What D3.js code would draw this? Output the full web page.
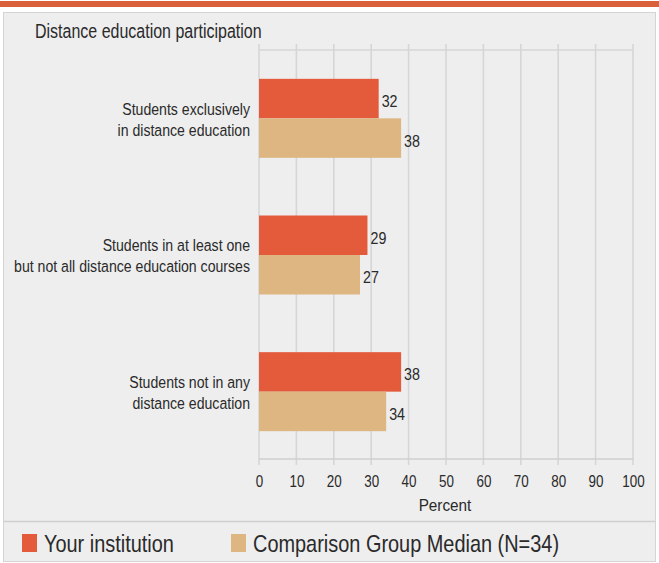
<!DOCTYPE html>
<html><head><meta charset="utf-8">
<script src="https://cdn.jsdelivr.net/npm/d3@7"></script>
<style>body{margin:0;background:#fff}svg{display:block}text{font-family:"Liberation Sans",Arial,sans-serif;fill:#2a2a2a}</style>
</head><body><svg id="c" width="659" height="563"></svg>
<script>
const title = "Distance education participation";
const categories = [
  ["Students exclusively", "in distance education"],
  ["Students in at least one", "but not all distance education courses"],
  ["Students not in any", "distance education"]
];
const seriesNames = ["Your institution", "Comparison Group Median (N=34)"];
const yourInstitution = [32, 29, 38];
const comparisonMedian = [38, 27, 34];
const xTicks = [0,10,20,30,40,50,60,70,80,90,100];
const xLabel = "Percent";
const colors = ["#e35b3b", "#ddb682"];

const svg = d3.select("#c");
// condensed text helper (reference text is horizontally compressed)
function txt(parent, x, y, str, size, anchor, sx) {
  const g = parent.append("g").attr("transform", `translate(${x},${y}) scale(${sx||0.83},1)`);
  return g.append("text").attr("x",0).attr("y",0).attr("font-size",size)
    .attr("text-anchor",anchor||"start").attr("dominant-baseline","central").text(str);
}

// top stripe
svg.append("rect").attr("x",0).attr("y",1).attr("width",659).attr("height",6).attr("fill","#d9603b");
// panel
svg.append("rect").attr("x",3.5).attr("y",12.5).attr("width",652).attr("height",549)
  .attr("fill","#eeeeee").attr("stroke","#d4d4d4");
svg.append("line").attr("x1",4).attr("x2",655).attr("y1",521.5).attr("y2",521.5).attr("stroke","#d0d0d0").attr("stroke-width",1.5);

txt(svg, 35, 31, title, 19.5, "start", 0.82);

const x = d3.scaleLinear().domain([0,100]).range([259,633]);
const idx = categories.map((d,i)=>i);
const y = d3.scaleBand().domain(idx).range([50,460]).paddingInner(0.422).paddingOuter(0.211);
const sub = d3.scaleBand().domain([0,1]).range([0,y.bandwidth()]);

// gridlines
const g = svg.append("g");
g.selectAll("line.v").data(xTicks).join("line")
  .attr("x1",d=>x(d)).attr("x2",d=>x(d)).attr("y1",44).attr("y2",465)
  .attr("stroke","#d6d6d6").attr("stroke-width",1.6);
g.append("line").attr("x1",x(0)).attr("x2",x(100)).attr("y1",50).attr("y2",50).attr("stroke","#d6d6d6").attr("stroke-width",1.6);
g.append("line").attr("x1",x(0)).attr("x2",x(100)).attr("y1",459).attr("y2",459).attr("stroke","#cfcfcf").attr("stroke-width",1.6);

// axis tick labels via d3 axis
const axis = d3.axisBottom(x).tickValues(xTicks).tickSize(0).tickPadding(0);
const ag = svg.append("g").attr("transform","translate(0,482)").call(axis);
ag.select(".domain").remove();
ag.selectAll(".tick text").attr("font-size",16).attr("dy",null).attr("y",0)
  .attr("dominant-baseline","central").attr("fill","#2a2a2a")
  .attr("transform","scale(0.84,1)");
txt(svg, 445, 505, xLabel, 17, "middle", 0.9);

// bars
const series = [yourInstitution, comparisonMedian];
series.forEach((vals,s)=>{
  svg.append("g").selectAll("rect").data(vals).join("rect")
    .attr("x",x(0)).attr("y",(d,i)=>y(i)+sub(s)).attr("width",d=>x(d)-x(0)).attr("height",sub.bandwidth())
    .attr("fill",colors[s]);
  const lg = svg.append("g");
  vals.forEach((d,i)=>{
    txt(lg, x(d)+3, y(i)+sub(s)+sub.bandwidth()/2+2.5, d, 17, "start", 0.84);
  });
});

// category labels
categories.forEach((lines,i)=>{
  const cy = y(i)+y.bandwidth()/2;
  lines.forEach((t,k)=>{
    txt(svg, 250, cy + (k===0?-9.5:11.5), t, 17, "end", 0.83);
  });
});

// legend
const legX = [22, 231], txtX = [44, 253];
seriesNames.forEach((n,s)=>{
  svg.append("rect").attr("x",legX[s]).attr("y",534).attr("width",15).attr("height",18).attr("fill",colors[s]);
  txt(svg, txtX[s], 544, n, 24, "start", 0.83);
});
</script></body></html>
